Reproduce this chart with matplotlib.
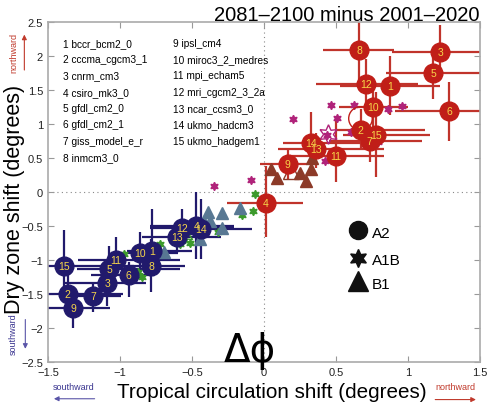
import numpy as np
import matplotlib.pyplot as plt

plt.rcParams['font.family'] = ['Liberation Sans', 'DejaVu Sans']

# A2 models, northward (red) — id, centre, error bar ends
n_id = [1, 2, 3, 4, 5, 6, 7, 8, 9, 10, 11, 12, 13, 14, 15]
n_x = [0.877, 0.671, 1.225, 0.012, 1.176, 1.285, 0.734, 0.66, 0.164, 0.76, 0.5, 0.708, 0.363, 0.324, 0.776]
n_y = [1.56, 0.92, 2.06, -0.16, 1.75, 1.19, 0.76, 2.09, 0.42, 1.26, 0.54, 1.59, 0.64, 0.725, 0.85]
n_xlo = [0.53, 0.5, 0.89, -0.26, 0.85, 0.91, 0.45, 0.41, -0.03, 0.52, 0.18, 0.36, 0.1, 0.13, 0.55]
n_xhi = [1.22, 1.12, 1.6, 0.27, 1.6, 1.6, 1.1, 0.905, 0.3, 1.0, 0.83, 1.07, 0.83, 0.76, 1.15]
n_ylo = [1.14, 0.64, 1.75, -0.66, 1.37, 0.76, 0.44, 1.66, 0.2, 0.74, 0.15, 1.22, 0.36, 0.24, 0.22]
n_yhi = [2.0, 1.22, 2.46, 0.39, 2.0, 1.63, 0.97, 2.6, 0.64, 1.55, 1.08, 1.96, 0.87, 1.18, 1.47]

# A2 models, southward (navy)
s_id = [1, 2, 3, 4, 5, 6, 7, 8, 9, 10, 11, 12, 13, 14, 15]
s_x = [-0.776, -1.363, -1.088, -0.47, -1.076, -0.94, -1.185, -0.785, -1.324, -0.861, -1.028, -0.572, -0.607, -0.44, -1.389]
s_y = [-0.87, -1.49, -1.33, -0.49, -1.13, -1.22, -1.53, -1.08, -1.70, -0.89, -0.995, -0.53, -0.66, -0.54, -1.08]
s_xlo = [-0.95, -1.6, -1.38, -0.79, -1.3, -1.2, -1.4, -0.95, -1.6, -1.06, -1.29, -0.79, -0.85, -0.62, -1.6]
s_xhi = [-0.5, -0.98, -0.82, -0.21, -0.58, -0.76, -0.99, -0.55, -1.07, -0.6, -0.58, -0.21, -0.3, -0.08, -0.9]
s_ylo = [-1.18, -1.76, -1.67, -0.98, -1.52, -1.54, -1.76, -1.47, -2.0, -1.27, -1.23, -0.66, -0.9, -0.98, -1.42]
s_yhi = [-0.25, -1.15, -0.98, 0.0, -0.79, -1.03, -1.35, -0.69, -1.42, -0.58, -0.66, -0.25, -0.45, -0.1, -0.56]

# A1B stars
g_x = [-0.97, -0.873, -0.845, -0.722, -0.59, -0.583, -0.06, -0.15, -0.074, -0.317, -0.514, -0.444]
g_y = [-0.91, -1.17, -1.25, -0.76, -0.61, -0.76, -0.02, -0.34, -0.28, -0.58, -0.74, -0.59]
m_x = [0.463, 0.625, 0.199, 0.509, 0.76, 0.859, 0.958, 0.604, 0.794, 0.424, -0.09, -0.35, 0.44]
m_y = [1.28, 1.28, 1.08, 1.09, 1.19, 1.23, 1.27, 0.88, 0.735, 0.465, 0.18, 0.09, 0.84]

# B1 triangles
b_x = [-0.39, -0.294, -0.167, -0.42, -0.375, -0.294, -0.444, -0.694]
b_y = [-0.285, -0.31, -0.235, -0.44, -0.42, -0.53, -0.68, -0.88]
r_x = [0.049, 0.092, 0.25, 0.29, 0.326, 0.333]
r_y = [0.34, 0.21, 0.28, 0.17, 0.34, 0.51]

# ensemble means (open symbols)
mean_a2_n = (0.67, 1.09)
mean_a1b_n = (0.447, 0.86)
mean_a1b_s = (-0.55, -0.63)
mean_b1_n = (0.19, 0.32)

model_col1 = ["1 bccr_bcm2_0", "2 cccma_cgcm3_1", "3 cnrm_cm3", "4 csiro_mk3_0",
              "5 gfdl_cm2_0", "6 gfdl_cm2_1", "7 giss_model_e_r", "8 inmcm3_0"]
model_col2 = ["9 ipsl_cm4", "10 miroc3_2_medres", "11 mpi_echam5", "12 mri_cgcm2_3_2a",
              "13 ncar_ccsm3_0", "14 ukmo_hadcm3", "15 ukmo_hadgem1"]

ticks = [-2.5, -2, -1.5, -1, -0.5, 0, 0.5, 1, 1.5, 2, 2.5]
tick_lab = ["\u22122.5", "\u22122", "\u22121.5", "\u22121", "\u22120.5", "0", "0.5", "1", "1.5", "2", "2.5"]

red = '#c01e18'
red_bar = '#c0332b'
navy = '#211a6c'
green = '#3c9a2c'
slate = '#587893'
magenta = '#b0237a'
brown = '#8c3a28'
yellow = '#f7d64a'
star6 = (6, 1, 0)

fig = plt.figure(figsize=(4.87, 4.1), dpi=100)
ax = fig.add_axes([0.0986, 0.114, 0.887, 0.829])

ax.axhline(0, color='#888888', ls=(0, (1, 3)), lw=0.8, zorder=0)
ax.axvline(0, color='#888888', ls=(0, (1, 3)), lw=0.8, zorder=0)

def bars(x, y, xlo, xhi, ylo, yhi, col):
    x = np.array(x); y = np.array(y)
    xe = [x - np.array(xlo), np.array(xhi) - x]
    ye = [y - np.array(ylo), np.array(yhi) - y]
    ax.errorbar(x, y, xerr=xe, yerr=ye, fmt='none', ecolor=col, elinewidth=1.6, capsize=0, zorder=2)

bars(s_x, s_y, s_xlo, s_xhi, s_ylo, s_yhi, navy)
bars(n_x, n_y, n_xlo, n_xhi, n_ylo, n_yhi, red_bar)

ax.plot(g_x, g_y, ls='none', marker=star6, ms=6, color=green, mec=green, zorder=3)
ax.plot(b_x, b_y, ls='none', marker='^', ms=8, color=slate, mec=slate, zorder=3)
ax.plot(m_x, m_y, ls='none', marker=star6, ms=6, color=magenta, mec=magenta, zorder=3)
ax.plot(r_x, r_y, ls='none', marker='^', ms=8, color=brown, mec=brown, zorder=3)

ax.plot(*mean_a2_n, marker='o', ms=17, mfc='none', mec=red, mew=1.0, zorder=3)
ax.plot(*mean_a1b_n, marker=star6, ms=14, mfc='none', mec=magenta, mew=1.0, zorder=3)
ax.plot(*mean_a1b_s, marker=star6, ms=12, mfc='none', mec=green, mew=1.0, zorder=3)
ax.plot(*mean_b1_n, marker='^', ms=12, mfc='none', mec=brown, mew=1.0, zorder=3)

ax.plot(s_x, s_y, ls='none', marker='o', ms=13.5, color=navy, zorder=4)
ax.plot(n_x, n_y, ls='none', marker='o', ms=13.5, color=red, zorder=4)
for i, xx, yy in zip(s_id, s_x, s_y):
    ax.text(xx, yy, str(i), color=yellow, fontsize=7.5, ha='center', va='center', zorder=5)
for i, xx, yy in zip(n_id, n_x, n_y):
    ax.text(xx, yy, str(i), color=yellow, fontsize=7.5, ha='center', va='center', zorder=5)

# model list
for k, s in enumerate(model_col1):
    ax.text(-1.395, 2.2 - k * 0.24, s, fontsize=7.3, ha='left', va='center')
for k, s in enumerate(model_col2):
    ax.text(-0.63, 2.2 - k * 0.24, s, fontsize=7.3, ha='left', va='center')

# scenario legend
ax.plot(0.65, -0.56, marker='o', ms=13, color='#111111', ls='none')
ax.plot(0.65, -0.96, marker=star6, ms=13, color='#111111', ls='none')
ax.plot(0.65, -1.31, marker='^', ms=14, color='#111111', ls='none')
ax.text(0.75, -0.6, 'A2', fontsize=11, va='center')
ax.text(0.75, -1.0, 'A1B', fontsize=11, va='center')
ax.text(0.75, -1.35, 'B1', fontsize=11, va='center')

ax.text(-0.1, -2.32, '\u0394\u03d5', fontsize=28, ha='center', va='center',
        family='DejaVu Sans', clip_on=False)

ax.set_xlim(-1.5, 1.5)
ax.set_ylim(-2.5, 2.5)
ax.set_xticks(ticks[2:9])
ax.set_xticklabels(tick_lab[2:9])
ax.set_yticks(ticks)
ax.set_yticklabels(tick_lab)
ax.tick_params(direction='in', top=True, right=True, length=4, labelsize=8, colors='#999999', labelcolor='#222222')
for sp in ax.spines.values():
    sp.set_color('#aaaaaa')
    sp.set_linewidth(1.2)

ax.set_xlabel('Tropical circulation shift (degrees)', fontsize=14.9)
ax.xaxis.set_label_coords(0.519, -0.058)
ax.set_ylabel('Dry zone shift (degrees)', fontsize=15.5)
ax.yaxis.set_label_coords(-0.053, 0.483)
fig.text(0.985, 0.985, '2081\u20132100 minus 2001\u20132020', fontsize=14.5, ha='right', va='top')

# direction arrows
def farrow(start, end, col):
    ax.annotate('', xy=end, xytext=start, xycoords='figure fraction', textcoords='figure fraction',
                annotation_clip=False,
                arrowprops=dict(arrowstyle='-|>', color=col, lw=0.8, mutation_scale=7))

fig.text(0.028, 0.87, 'northward', color='#c0392b', fontsize=6.5, rotation=90, ha='center', va='center')
farrow((0.05, 0.82), (0.05, 0.92), '#c0392b')
fig.text(0.028, 0.185, 'southward', color='#3a3590', fontsize=6.5, rotation=90, ha='center', va='center')
farrow((0.052, 0.225), (0.052, 0.14), '#5a55a8')
fig.text(0.152, 0.054, 'southward', color='#3a3590', fontsize=6.5, ha='center', va='center')
farrow((0.2, 0.025), (0.105, 0.025), '#5a55a8')
fig.text(0.935, 0.054, 'northward', color='#c0392b', fontsize=6.5, ha='center', va='center')
farrow((0.888, 0.023), (0.983, 0.023), '#c0392b')

fig.savefig('out.png', dpi=100)
